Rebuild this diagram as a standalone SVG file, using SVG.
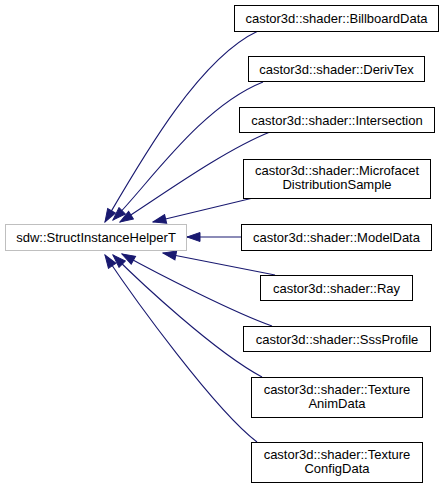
<svg xmlns="http://www.w3.org/2000/svg" width="444" height="489" viewBox="0 0 444 489">
<style>
.n rect{fill:#fff;stroke:#000;stroke-width:1}
#base rect{stroke:#bfbfbf}
text{font-family:"Liberation Sans",Arial,sans-serif;font-size:13px;text-anchor:middle;fill:#000}
.e path{fill:none;stroke:#191970;stroke-width:1.1;marker-end:url(#ah)}
</style>
<defs>
<marker id="ah" markerUnits="userSpaceOnUse" markerWidth="15" markerHeight="11" refX="14" refY="5.5" orient="auto" viewBox="0 0 15 11">
<path d="M1,1 L14,5.5 L1,10 Z" fill="#191970" stroke="#191970" stroke-width="1"/>
</marker>
</defs>
<g class="e">
<path d="M258,31 C198,59 140,162 105,222"/>
<path d="M263,82 C200,107 148,185 113,220"/>
<path d="M270,132 C222,151 155,200 120,222"/>
<path d="M253,198 L153,222"/>
<path d="M241,237 L187,237"/>
<path d="M275,275 L163,253"/>
<path d="M272,326 C235,313 160,275 122,254"/>
<path d="M262,377 C215,352 140,282 113,255"/>
<path d="M257,442 C215,410 135,300 105,255"/>
</g>
<g id="base" class="n"><rect x="5.5" y="224.5" width="181" height="26"/><text x="96" y="242">sdw::StructInstanceHelperT</text></g>
<g id="billboard" class="n"><rect x="234.5" y="5.5" width="204" height="26"/><text x="336.5" y="23">castor3d::shader::BillboardData</text></g>
<g id="derivtex" class="n"><rect x="248.5" y="56.5" width="176" height="25"/><text x="336.5" y="74">castor3d::shader::DerivTex</text></g>
<g id="intersection" class="n"><rect x="239.5" y="107.5" width="195" height="25"/><text x="337" y="125">castor3d::shader::Intersection</text></g>
<g id="microfacet" class="n"><rect x="243.5" y="159.5" width="187" height="39"/><text x="337" y="175">castor3d::shader::Microfacet</text><text x="337" y="189">DistributionSample</text></g>
<g id="modeldata" class="n"><rect x="241.5" y="224.5" width="190" height="26"/><text x="336.5" y="242">castor3d::shader::ModelData</text></g>
<g id="ray" class="n"><rect x="260.5" y="275.5" width="152" height="25"/><text x="336.5" y="293">castor3d::shader::Ray</text></g>
<g id="sssprofile" class="n"><rect x="243.5" y="326.5" width="187" height="25"/><text x="337" y="344">castor3d::shader::SssProfile</text></g>
<g id="animdata" class="n"><rect x="251.5" y="377.5" width="171" height="40"/><text x="337" y="394">castor3d::shader::Texture</text><text x="337" y="408">AnimData</text></g>
<g id="configdata" class="n"><rect x="251.5" y="442.5" width="171" height="40"/><text x="337" y="459">castor3d::shader::Texture</text><text x="337" y="473">ConfigData</text></g>
</svg>
